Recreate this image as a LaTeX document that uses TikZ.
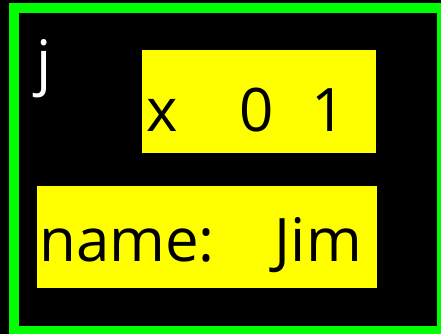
\documentclass[tikz,border=0pt]{standalone}
\usepackage{fontspec}
\setmainfont{Open Sans}
\definecolor{bordergreen}{HTML}{00FF00}
\definecolor{fieldyellow}{HTML}{FFFF00}
\begin{document}
\begin{tikzpicture}[x=1pt, y=-1pt,
		field/.style={rectangle, fill=fieldyellow, anchor=north west, inner ysep=0pt, align=left, font=\fontsize{60}{64}\selectfont}]
		\useasboundingbox (0,0) rectangle (441,334);
		\fill[black] (0,0) rectangle (441,334);
		\draw[bordergreen, line width=10pt] (14,8) rectangle (442,331);

		\node[anchor=base west, inner sep=0pt, text=white, font=\fontsize{60}{64}\selectfont] (jlabel) at (36,84) {j};

		\node[field, inner xsep=4.5pt, text width=225pt, text height=81pt, text depth=22pt] (xrow) at (142,50) {x\hspace{61pt}0\hspace{38pt}1};
		\node[field, inner xsep=2pt, text width=336pt, text height=75pt, text depth=27pt] (namerow) at (37,186) {name:\hspace{60pt}Jim};
	\end{tikzpicture}
\end{document}
